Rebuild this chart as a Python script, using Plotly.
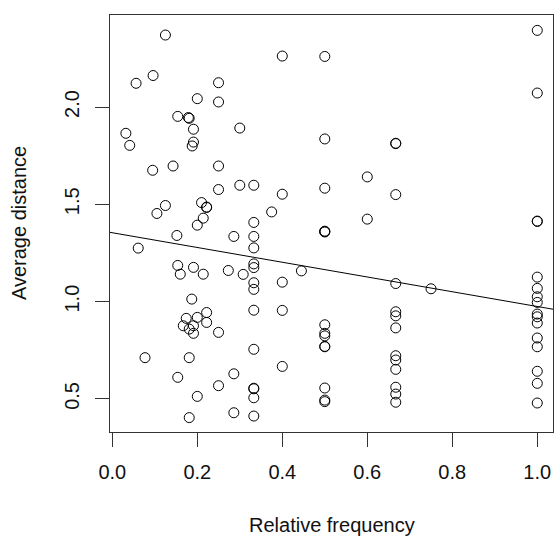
import plotly.graph_objects as go

# Relative frequency (x) and average distance (y)
rel_freq = [
    0.125, 0.096, 0.056, 0.250, 0.250, 0.200, 0.154, 0.179, 0.181, 0.191,
    0.300, 0.032, 0.041, 0.191, 0.188, 0.095, 0.143, 0.250, 0.250, 0.300,
    0.333, 0.125, 0.105, 0.210, 0.222, 0.222, 0.214, 0.200, 0.333, 0.375,
    0.152, 0.286, 0.333, 0.333, 0.061, 0.154, 0.160, 0.191, 0.214, 0.273,
    0.308, 0.333, 0.333, 0.333, 0.333, 0.187, 0.333, 0.222, 0.174, 0.200,
    0.222, 0.167, 0.191, 0.181, 0.191, 0.250, 0.077, 0.181, 0.333, 0.154,
    0.286, 0.250, 0.200, 0.333, 0.333, 0.333, 0.181, 0.286, 0.333,
    0.400, 0.400, 0.400, 0.400, 0.400,
    0.445,
    0.500, 0.500, 0.500, 0.500, 0.500, 0.500, 0.500, 0.500, 0.500, 0.500,
    0.500, 0.500, 0.500, 0.500,
    0.600, 0.600,
    0.667, 0.667, 0.667, 0.667, 0.667, 0.667, 0.667, 0.667, 0.667, 0.667,
    0.667, 0.667, 0.667,
    0.750,
    1.0, 1.0, 1.0, 1.0, 1.0, 1.0, 1.0, 1.0, 1.0, 1.0, 1.0, 1.0, 1.0, 1.0,
    1.0, 1.0,
]
avg_dist = [
    2.370, 2.162, 2.122, 2.125, 2.026, 2.043, 1.952, 1.946, 1.942, 1.886,
    1.892, 1.865, 1.803, 1.820, 1.800, 1.675, 1.697, 1.697, 1.576, 1.598,
    1.598, 1.494, 1.453, 1.509, 1.484, 1.486, 1.429, 1.393, 1.407, 1.461,
    1.340, 1.335, 1.335, 1.276, 1.275, 1.186, 1.141, 1.176, 1.141, 1.160,
    1.140, 1.194, 1.175, 1.097, 1.063, 1.013, 0.956, 0.944, 0.914, 0.919,
    0.893, 0.876, 0.876, 0.859, 0.837, 0.842, 0.712, 0.712, 0.755, 0.611,
    0.629, 0.568, 0.513, 0.552, 0.555, 0.506, 0.404, 0.429, 0.412,
    2.262, 1.552, 1.100, 0.955, 0.667,
    1.158,
    2.260, 1.836, 1.583, 1.360, 1.362, 1.358, 0.881, 0.837, 0.824, 0.768,
    0.770, 0.556, 0.494, 0.486,
    1.641, 1.424,
    1.812, 1.814, 1.550, 1.093, 0.948, 0.927, 0.865, 0.722, 0.700, 0.652,
    0.560, 0.525, 0.483,
    1.066,
    2.394, 2.072, 1.412, 1.414, 1.126, 1.068, 1.025, 0.996, 0.936, 0.922,
    0.890, 0.813, 0.768, 0.642, 0.580, 0.479,
]

# Fitted regression line (abline)
fit_intercept = 1.354
fit_slope = -0.379

x_ticks = [0.0, 0.2, 0.4, 0.6, 0.8, 1.0]
x_tick_labels = ["0.0", "0.2", "0.4", "0.6", "0.8", "1.0"]
y_ticks = [0.5, 1.0, 1.5, 2.0]
y_tick_labels = ["0.5", "1.0", "1.5", "2.0"]

x_title = "Relative frequency"
y_title = "Average distance"

x_range = [-0.0054, 1.037]
y_range = [0.330, 2.473]

FONT = "Liberation Sans, Arial, Helvetica, sans-serif"
TXT = "#111"
LINE = "#333"

fig = go.Figure()
fig.add_trace(go.Scatter(
    x=rel_freq, y=avg_dist, mode="markers",
    marker=dict(symbol="circle-open", size=10, color="black",
                line=dict(width=1, color="black")),
    showlegend=False, hoverinfo="x+y",
))

# abline across the full plot width
fig.add_trace(go.Scatter(
    x=x_range,
    y=[fit_intercept + fit_slope * v for v in x_range],
    mode="lines", line=dict(color="black", width=1),
    showlegend=False, hoverinfo="skip", cliponaxis=True,
))

axis_common = dict(
    ticks="outside", ticklen=14, tickwidth=1, tickcolor=LINE,
    showline=True, linecolor=LINE, linewidth=1, mirror=True,
    showgrid=False, zeroline=False, automargin=False,
    ticklabelstandoff=8,
    tickfont=dict(size=20, family=FONT, color=TXT),
)

fig.update_layout(
    width=554, height=536,
    margin=dict(l=110, r=1, t=15, b=104),
    paper_bgcolor="white", plot_bgcolor="white",
    font=dict(family=FONT, size=20, color=TXT),
    xaxis=dict(range=x_range, tickvals=x_ticks, ticktext=x_tick_labels,
               **axis_common),
    yaxis=dict(range=y_range, tickvals=y_ticks, ticktext=y_tick_labels,
               tickangle=-90, **axis_common),
    annotations=[
        dict(text=x_title, xref="paper", yref="paper", x=0.5, y=-0.222,
             xanchor="center", yanchor="middle", showarrow=False,
             font=dict(size=20, family=FONT, color=TXT)),
        dict(text=y_title, xref="paper", yref="paper", x=-0.2065, y=0.5,
             xanchor="center", yanchor="middle", textangle=-90,
             showarrow=False, font=dict(size=20, family=FONT, color=TXT)),
    ],
)

fig.write_html(
    "out.html",
    config={"displayModeBar": False},
    post_script="document.body.style.margin='0';"
                "document.body.style.overflow='hidden';",
)
